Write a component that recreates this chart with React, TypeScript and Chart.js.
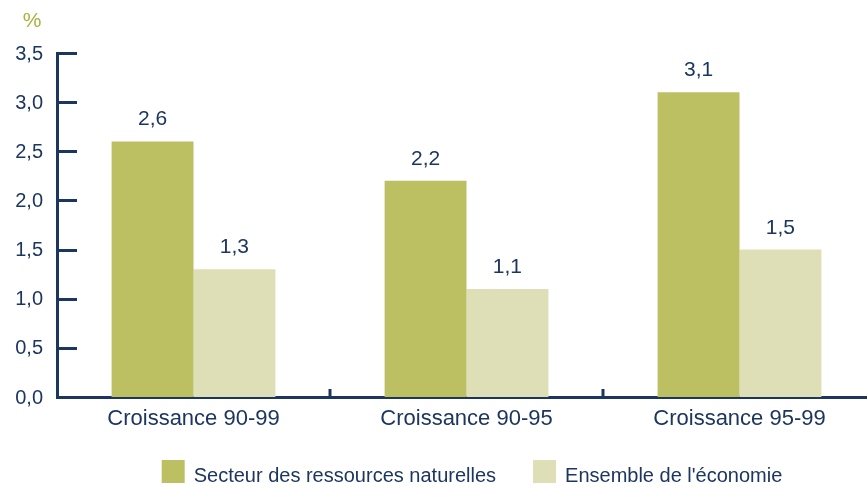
import React, { useEffect, useRef } from "react";
import { Chart, registerables } from "chart.js";

Chart.register(...registerables);

const categories = ["Croissance 90-99", "Croissance 90-95", "Croissance 95-99"];
const ressourcesNaturelles = [2.6, 2.2, 3.1];
const ensembleEconomie = [1.3, 1.1, 1.5];
const seriesLabels = ["Secteur des ressources naturelles", "Ensemble de l'économie"];
const yMin = 0;
const yMax = 3.5;
const yStep = 0.5;
const unitLabel = "%";

const NAVY = "#1d3660";
const GREEN = "#bcc062";
const LIGHT = "#dedfb6";
const PCT = "#a8b13e";
const FONT = "'Liberation Sans', Arial, Helvetica, sans-serif";

const fmt = (v: number) => v.toFixed(1).replace(".", ",");

const decorPlugin = {
  id: "decor",
  afterDraw(chart: any) {
    const { ctx, chartArea, scales } = chart;
    const y = scales.y;
    const x = scales.x;
    ctx.save();
    ctx.strokeStyle = NAVY;
    ctx.lineWidth = 3;
    // inward y tick marks
    y.ticks.forEach((t: any) => {
      const py = Math.round(y.getPixelForValue(t.value)) + 0.5;
      ctx.beginPath();
      ctx.moveTo(chartArea.left, py);
      ctx.lineTo(chartArea.left + 20, py);
      ctx.stroke();
    });
    // category dividers
    for (let i = 1; i < categories.length; i++) {
      const px = Math.round((x.getPixelForValue(i - 1) + x.getPixelForValue(i)) / 2);
      ctx.beginPath();
      ctx.moveTo(px, chartArea.bottom - 8);
      ctx.lineTo(px, chartArea.bottom);
      ctx.stroke();
    }
    // value labels
    ctx.fillStyle = NAVY;
    ctx.font = `21px ${FONT}`;
    ctx.textAlign = "center";
    ctx.textBaseline = "alphabetic";
    chart.data.datasets.forEach((ds: any, di: number) => {
      const meta = chart.getDatasetMeta(di);
      meta.data.forEach((el: any, i: number) => {
        ctx.fillText(fmt(ds.data[i]), el.x, el.y - 16);
      });
    });
    // unit label
    ctx.fillStyle = PCT;
    ctx.font = `21px ${FONT}`;
    ctx.fillText(unitLabel, 32, 27);
    // legend
    ctx.font = `20px ${FONT}`;
    ctx.textAlign = "left";
    const box = 23;
    const gapText = 9;
    const gapItems = 37;
    const widths = chart.data.datasets.map((ds: any) => box + gapText + ctx.measureText(ds.label).width);
    const total = widths.reduce((a: number, b: number) => a + b, 0) + gapItems * (widths.length - 1);
    let lx = 472 - total / 2;
    chart.data.datasets.forEach((ds: any, di: number) => {
      ctx.fillStyle = ds.backgroundColor;
      ctx.fillRect(lx, 460, box, box);
      ctx.fillStyle = NAVY;
      ctx.fillText(ds.label, lx + box + gapText, 482);
      lx += widths[di] + gapItems;
    });
    ctx.restore();
  },
};

export default function App() {
  const ref = useRef<HTMLCanvasElement>(null);
  useEffect(() => {
    if (!ref.current) return;
    const chart = new Chart(ref.current, {
      type: "bar",
      data: {
        labels: categories,
        datasets: [
          { label: seriesLabels[0], data: ressourcesNaturelles, backgroundColor: GREEN },
          { label: seriesLabels[1], data: ensembleEconomie, backgroundColor: LIGHT },
        ],
      },
      options: {
        responsive: false,
        animation: false,
        layout: { padding: { top: 53, right: 0, left: 0, bottom: 0 } },
        datasets: { bar: { categoryPercentage: 0.6, barPercentage: 1.0 } },
        plugins: { legend: { display: false }, tooltip: { enabled: false } },
        scales: {
          x: {
            offset: true,
            grid: { display: false, drawTicks: false },
            border: { display: true, color: NAVY, width: 3 },
            ticks: { color: NAVY, font: { size: 22, family: FONT }, padding: 9, maxRotation: 0 },
            afterFit: (s: any) => { s.height = 90; },
          },
          y: {
            min: yMin,
            max: yMax,
            grid: { display: false, drawTicks: false },
            border: { display: true, color: NAVY, width: 3 },
            ticks: {
              stepSize: yStep,
              color: NAVY,
              font: { size: 20, family: FONT },
              padding: 14,
              labelOffset: 1,
              callback: (v: any) => fmt(Number(v)),
            },
            afterFit: (s: any) => { s.width = 57; },
          },
        },
      },
      plugins: [decorPlugin],
    });
    return () => chart.destroy();
  }, []);
  return (
    <div style={{ position: "fixed", left: 0, top: 0, width: 867, height: 487, overflow: "hidden", background: "#fff" }}>
      <canvas ref={ref} width={876} height={487} style={{ display: "block" }} />
    </div>
  );
}
